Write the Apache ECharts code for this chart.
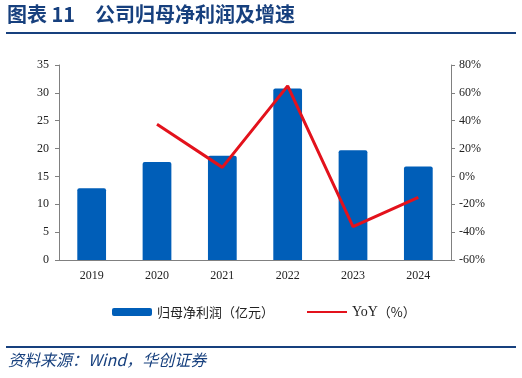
<!DOCTYPE html>
<html>
<head>
<meta charset="utf-8">
<script src="https://cdn.jsdelivr.net/npm/echarts@6/dist/echarts.min.js"></script>
<style>
  html, body { margin: 0; padding: 0; background: #fff; }
  #main { width: 522px; height: 378px; }
</style>
</head>
<body>
<div id="main"></div>
<script>
var years = ['2019', '2020', '2021', '2022', '2023', '2024'];
var profit = [12.9, 17.6, 18.7, 30.8, 19.7, 16.8];
var yoy = [null, 37.5, 6.5, 65, -36, -15];
var leftTicks = { min: 0, max: 35, interval: 5 };
var rightTicks = { min: -60, max: 80, interval: 20 };

var serif = '"Liberation Serif", "Times New Roman", serif';
var cjk = '"Noto Sans CJK SC", sans-serif';
var navy = '#17407e';

var chart = echarts.init(document.getElementById('main'));
chart.setOption({
  animation: false,
  grid: { left: 59, right: 71, top: 65, bottom: 118 },
  legend: {
    top: 305,
    left: 112,
    padding: 0,
    itemGap: 32,
    itemWidth: 40,
    itemHeight: 8,
    textStyle: {
      fontFamily: cjk, fontSize: 13, color: '#222',
      rich: { en: { fontFamily: serif, fontSize: 14, color: '#222' } }
    },
    formatter: function (name) {
      if (name === 'YoY（%）') return '{en|YoY}（%）';
      return name;
    },
    data: [
      { name: '归母净利润（亿元）', icon: 'roundRect' },
      { name: 'YoY（%）', itemStyle: { opacity: 0 } }
    ]
  },
  xAxis: {
    type: 'category',
    data: years,
    axisLine: { lineStyle: { color: '#808080', width: 1 } },
    axisTick: { show: false },
    axisLabel: { fontFamily: serif, fontSize: 12, color: '#222', margin: 10 }
  },
  yAxis: [
    {
      type: 'value',
      min: leftTicks.min, max: leftTicks.max, interval: leftTicks.interval,
      splitLine: { show: false },
      axisLine: { show: true, lineStyle: { color: '#808080' } },
      axisTick: { show: true, length: 4, lineStyle: { color: '#808080' } },
      axisLabel: { fontFamily: serif, fontSize: 12, color: '#222', margin: 10 }
    },
    {
      type: 'value',
      min: rightTicks.min, max: rightTicks.max, interval: rightTicks.interval,
      splitLine: { show: false },
      axisLine: { show: true, lineStyle: { color: '#808080' } },
      axisTick: { show: true, length: 4, lineStyle: { color: '#808080' } },
      axisLabel: { fontFamily: serif, fontSize: 12, color: '#222', margin: 8, formatter: '{value}%' }
    }
  ],
  series: [
    {
      name: '归母净利润（亿元）',
      type: 'bar',
      data: profit,
      barWidth: '44%',
      itemStyle: { color: '#005eb8', borderRadius: [2, 2, 0, 0] }
    },
    {
      name: 'YoY（%）',
      type: 'line',
      yAxisIndex: 1,
      data: yoy,
      symbol: 'none',
      lineStyle: { color: '#e3121c', width: 3 },
      itemStyle: { color: '#e3121c' }
    }
  ],
  graphic: [
    {
      type: 'text', left: 7, top: 4,
      style: { text: '图表 11', font: 'bold 20px ' + cjk, fill: navy }
    },
    {
      type: 'text', left: 95, top: 4,
      style: { text: '公司归母净利润及增速', font: 'bold 20px ' + cjk, fill: navy }
    },
    {
      type: 'rect', shape: { x: 6, y: 32, width: 510, height: 2 },
      style: { fill: navy }
    },
    {
      type: 'rect', shape: { x: 6, y: 346, width: 510, height: 2 },
      style: { fill: navy }
    },
    {
      type: 'text', left: 8, top: 352,
      style: { text: '资料来源：Wind，华创证券', font: 'italic 16px ' + cjk, fill: navy }
    }
  ]
});
</script>
</body>
</html>
